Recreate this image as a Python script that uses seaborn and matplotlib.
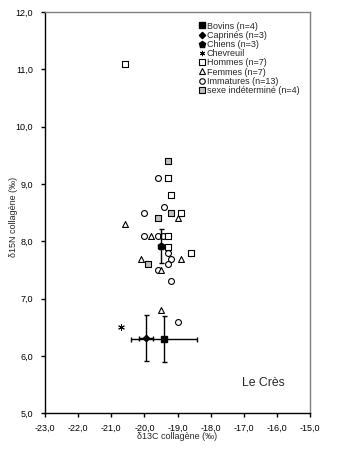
import matplotlib
matplotlib.use("Agg")
import matplotlib.pyplot as plt
import seaborn as sns
import pandas as pd
import numpy as np
from matplotlib.ticker import FuncFormatter

# individual points (d13C, d15N)
hommes_x = [-20.6, -19.3, -19.2, -18.9, -19.3, -19.3, -18.6]
hommes_y = [11.1, 9.1, 8.8, 8.5, 8.1, 7.9, 7.8]
femmes_x = [-19.0, -20.6, -19.8, -18.9, -20.1, -19.5, -19.5]
femmes_y = [8.4, 8.3, 8.1, 7.7, 7.7, 7.5, 6.8]
immat_x = [-19.6, -19.4, -20.0, -20.0, -19.6, -19.45, -19.3, -19.2, -19.3, -19.6, -19.2, -19.0, -19.5]
immat_y = [9.1, 8.6, 8.5, 8.1, 8.1, 8.1, 7.8, 7.7, 7.6, 7.5, 7.3, 6.6, 7.92]
indet_x = [-19.3, -19.2, -19.6, -19.9]
indet_y = [9.4, 8.5, 8.4, 7.6]
chevreuil_x = [-20.7]
chevreuil_y = [6.5]

# group means with standard deviations
bovins = dict(x=-19.4, y=6.3, xerr=1.0, yerr=0.4)
caprines = dict(x=-19.95, y=6.32, xerr=0.2, yerr=0.4)
chiens = dict(x=-19.5, y=7.92, xerr=0.1, yerr=0.3)

labels = ['Bovins (n=4)', 'Caprinés (n=3)', 'Chiens (n=3)', 'Chevreuil',
          'Hommes (n=7)', 'Femmes (n=7)', 'Immatures (n=13)', 'sexe indéterminé (n=4)']

sns.set_style("white")
plt.rcParams['font.family'] = ['Liberation Sans', 'DejaVu Sans']

fig = plt.figure(figsize=(3.53, 4.54), dpi=100)
ax = fig.add_axes([0.1275, 0.0896, 0.7507, 0.884])

ms = 18
handles = {}
for xs, ys, mk, fc, lab in [
        (immat_x, immat_y, 'o', 'white', labels[6]),
        (femmes_x, femmes_y, '^', 'white', labels[5]),
        (hommes_x, hommes_y, 's', 'white', labels[4]),
        (indet_x, indet_y, 's', '#c0c0c0', labels[7])]:
    df = pd.DataFrame({'x': xs, 'y': ys})
    sns.scatterplot(data=df, x='x', y='y', marker=mk, s=ms, color=fc,
                    edgecolor='black', linewidth=0.8, ax=ax, zorder=3)
    handles[lab] = plt.Line2D([], [], ls='', marker=mk, mfc=fc, mec='black',
                              mew=0.8, ms=4)

df = pd.DataFrame({'x': chevreuil_x, 'y': chevreuil_y})
sns.scatterplot(data=df, x='x', y='y', marker=(6, 2, 0), s=18, color='black',
                linewidth=0.7, ax=ax, zorder=3)
handles[labels[3]] = plt.Line2D([], [], ls='', marker=(6, 2, 0), color='black',
                                mew=0.7, ms=3.8)

for g, mk, msz, lab in [(bovins, 's', 4.5, labels[0]), (caprines, 'D', 3.2, labels[1]),
                        (chiens, 'p', 4.8, labels[2])]:
    ax.errorbar(g['x'], g['y'], xerr=g['xerr'], yerr=g['yerr'], fmt=mk,
                color='black', ms=msz, elinewidth=1, capsize=1.8, capthick=1,
                zorder=4)
    handles[lab] = plt.Line2D([], [], ls='', marker=mk, color='black', ms=msz)

ax.set_xlim(-23, -15)
ax.set_ylim(5, 12)
ax.set_xticks(np.arange(-23, -14, 1))
ax.set_yticks(np.arange(5, 13, 1))
fmt = FuncFormatter(lambda v, p: '{:.1f}'.format(v).replace('.', ','))
ax.xaxis.set_major_formatter(fmt)
ax.yaxis.set_major_formatter(fmt)
ax.tick_params(axis='both', direction='out', length=3, width=1, labelsize=6.5,
               bottom=True, left=True, colors='black')
ax.tick_params(axis='x', pad=4.2)
ax.tick_params(axis='y', pad=5.8)
for s in ['left', 'bottom']:
    ax.spines[s].set_color('black')
    ax.spines[s].set_linewidth(1)
for s in ['top', 'right']:
    ax.spines[s].set_color('#808080')
    ax.spines[s].set_linewidth(1)

ax.set_xlabel('δ13C collagène (‰)', fontsize=6.5)
ax.set_ylabel('δ15N collagène (‰)', fontsize=6.5)
ax.xaxis.set_label_coords(0.5, -0.046)
ax.yaxis.set_label_coords(-0.102, 0.49)

ax.text(-16.4, 5.53, 'Le Crès', fontsize=8.8, ha='center', va='center')

ax.legend([handles[l] for l in labels], labels, loc='upper left',
          bbox_to_anchor=(0.585, 0.976), frameon=False, fontsize=6.5,
          handlelength=0.5, handletextpad=0.25, labelspacing=0.02,
          borderpad=0, borderaxespad=0)

plt.savefig('out.png', dpi=100)
